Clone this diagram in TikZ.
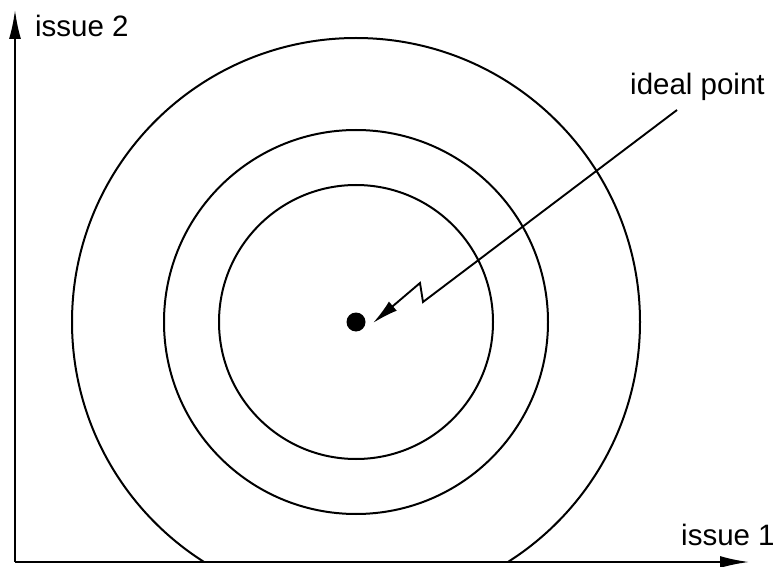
\documentclass[tikz,border=0pt]{standalone}
\usepackage{fontspec}
\setmainfont{Liberation Sans}
\usetikzlibrary{arrows.meta}
\begin{document}
\begin{tikzpicture}[x=1pt,y=-1pt,
  ring/.style={line width=2pt},
  axisline/.style={line width=2pt,-{Latex[length=29pt,width=12pt]}},
  lbl/.style={font=\fontsize{29.5}{34}\selectfont,inner sep=0pt,anchor=base west},
  pointer/.style={line width=1.9pt,-{Latex[length=26pt,width=12pt]}}]
\useasboundingbox (0,0) rectangle (777,567);
% axes
\coordinate (O) at (15,562);
\coordinate (ytip) at (15,10);
\coordinate (xtip) at (749,562);
% circles
\coordinate (C) at (356,322);
\begin{scope}
\clip (0,0) rectangle (777,561);
\draw[ring] (C) circle[radius=284];
\end{scope}
\draw[ring] (C) circle[radius=192];
\draw[ring] (C) circle[radius=137];
\draw[axisline] (O) -- (ytip);
\draw[axisline] (O) -- (xtip);
% ideal point
\node[circle,fill=black,inner sep=0pt,minimum size=19pt] (ideal) at (356,322) {};
\coordinate (pstart) at (677,110);
\coordinate (zlow) at (423,302);
\coordinate (zhigh) at (420,283);
\draw[pointer,line join=miter] (pstart) -- (zlow) -- (zhigh) -- ([shift={(17,1)}]ideal.center);
% labels
\node[lbl] (l2) at (35,37) {issue 2};
\node[lbl] (l1) at (681,545) {issue 1};
\node[lbl] (lp) at (630,95) {ideal point};
\end{tikzpicture}
\end{document}
